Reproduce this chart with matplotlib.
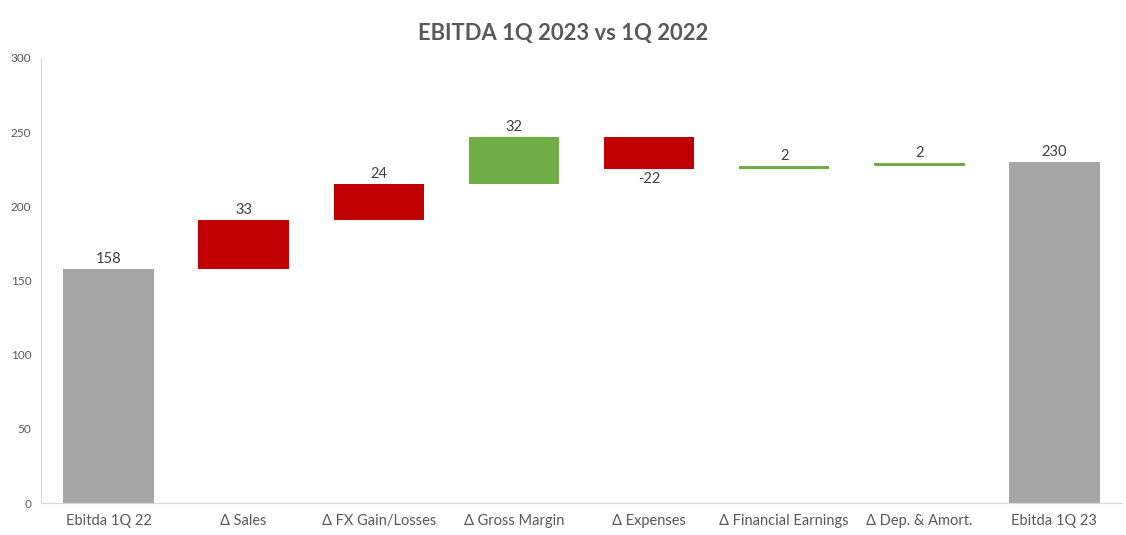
import numpy as np
import matplotlib.pyplot as plt

categories = ['Ebitda 1Q 22', 'Δ Sales', 'Δ FX Gain/Losses', 'Δ Gross Margin',
              'Δ Expenses', 'Δ Financial Earnings', 'Δ Dep. & Amort.', 'Ebitda 1Q 23']
start_value = 158
deltas = [33, 24, 32, -22, 2, 2]
end_value = 230
delta_colors = ['#C00000', '#C00000', '#70AD47', '#C00000', '#70AD47', '#70AD47']
total_color = '#A5A5A5'

plt.rcParams['font.family'] = ['Lato', 'DejaVu Sans']

fig = plt.figure(figsize=(11.26, 5.35), dpi=100)
ax = fig.add_axes([0.0364, 0.0598, 0.96, 0.8318])

x = np.arange(len(categories))
w = 0.67

# totals
ax.bar(x[0], start_value, width=w, color=total_color)
ax.bar(x[-1], end_value, width=w, color=total_color)
ax.text(x[0], start_value + 2, str(start_value), ha='center', va='bottom', fontsize=10.5, color='#404040')
ax.text(x[-1], end_value + 2, str(end_value), ha='center', va='bottom', fontsize=10.5, color='#404040')

# deltas
level = start_value
for i, d in enumerate(deltas):
    xi = x[i + 1]
    ax.bar(xi, d, bottom=level, width=w, color=delta_colors[i])
    top = max(level, level + d)
    low = min(level, level + d)
    if d >= 0:
        ax.text(xi, top + 2, str(d), ha='center', va='bottom', fontsize=10.5, color='#404040')
    else:
        ax.text(xi, low - 2, str(d), ha='center', va='top', fontsize=10.5, color='#404040')
    level += d

ax.set_xlim(-0.5, len(categories) - 0.5)
ax.set_ylim(0, 300)
ax.set_yticks(range(0, 301, 50))
ax.set_xticks(x)
ax.set_xticklabels(categories, fontsize=10.5, color='#595959')
ax.tick_params(axis='y', labelsize=8.5, labelcolor='#595959', length=0, pad=7)
ax.tick_params(axis='x', length=0, pad=8)

for s in ['top', 'right']:
    ax.spines[s].set_visible(False)
ax.spines['left'].set_color('#D9D9D9')
ax.spines['bottom'].set_color('#D9D9D9')

fig.text(0.5, 0.938, 'EBITDA 1Q 2023 vs 1Q 2022', ha='center', va='center',
         fontsize=15.8, fontweight='bold', color='#595959')

fig.savefig('out.png', dpi=100)
